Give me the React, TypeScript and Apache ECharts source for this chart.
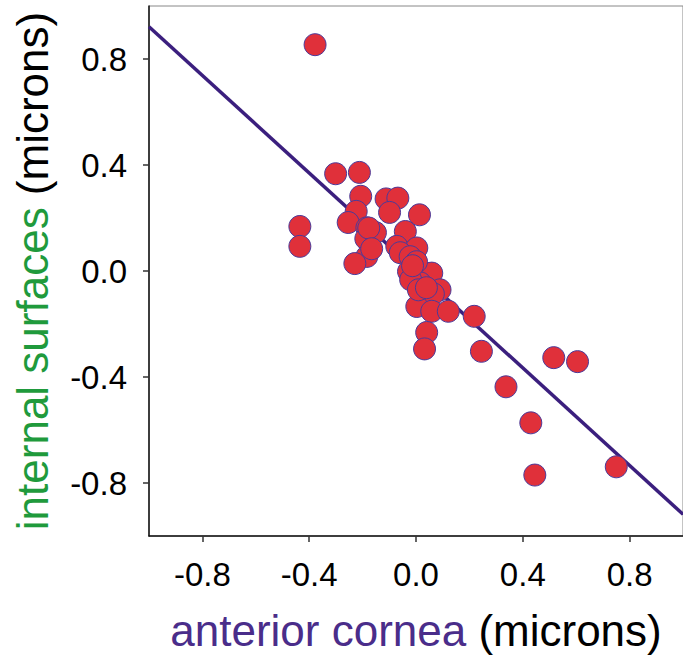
import React, { useEffect, useRef } from "react";
import * as echarts from "echarts";

const pointsX = [
  -0.378, -0.301, -0.212, -0.207, -0.224, -0.254, -0.435, -0.435, -0.184, -0.188,
  -0.152, -0.184, -0.229, -0.112, -0.068, -0.099, 0.013, -0.177, -0.04, -0.072,
  0.003, -0.166, -0.059, -0.022, -0.028, 0.034, 0.028, 0.059, 0.016, 0.09,
  0.065, 0.003, 0.059, 0.121, 0.218, 0.04, 0.032, 0.245, 0.337, 0.516,
  0.605, 0.43, 0.445, 0.75, -0.02, 0.009, 0.039, 0.002, -0.013,
];
const pointsY = [
  0.854, 0.367, 0.372, 0.282, 0.225, 0.183, 0.168, 0.093, 0.163, 0.122,
  0.145, 0.055, 0.028, 0.272, 0.275, 0.221, 0.212, 0.162, 0.149, 0.093,
  0.087, 0.084, 0.069, 0.054, -0.002, -0.008, -0.014, -0.008, -0.045, -0.071,
  -0.086, -0.134, -0.152, -0.152, -0.171, -0.232, -0.294, -0.303, -0.437, -0.327,
  -0.342, -0.573, -0.77, -0.739, -0.033, -0.071, -0.063, 0.035, 0.02,
];
const fitSlope = [-0.92];
const fitIntercept = [0.002];
const fitRangeX = [-1, 1];
const tickValues = [-0.8, -0.4, 0, 0.4, 0.8];

const FONT = "'Liberation Sans', Arial, sans-serif";
const GREEN = "#1f9a3c";
const PURPLE = "#4a2d8a";

export default function App() {
  const ref = useRef<HTMLDivElement>(null);
  useEffect(() => {
    if (!ref.current) return;
    const chart = echarts.init(ref.current, null, { renderer: "svg" });
    const scatterData = pointsX.map((x, i) => [x, pointsY[i]]);
    const lineData = fitRangeX.map((x) => [x, fitSlope[0] * x + fitIntercept[0]]);
    const axisCommon = {
      type: "value",
      min: -1,
      max: 1,
      splitLine: { show: false },
      axisLine: { show: true, onZero: false, lineStyle: { color: "#111", width: 1.5 } },
      axisTick: {
        show: true,
        length: 6,
        customValues: tickValues,
        lineStyle: { color: "#333", width: 1.5 },
      },
      axisLabel: {
        customValues: tickValues,
        formatter: (v: number) => v.toFixed(1),
        fontSize: 33,
        fontFamily: FONT,
        color: "#000",
        margin: 22,
      },
      nameLocation: "middle",
    };
    chart.setOption({
      animation: false,
      backgroundColor: "#fff",
      grid: {
        left: 149,
        top: 6,
        width: 537,
        height: 530,
        show: true,
        borderColor: "#888",
        borderWidth: 1,
      },
      xAxis: {
        ...axisCommon,
        name: "{p|anterior cornea} (microns)",
        nameGap: 72,
        nameTextStyle: {
          fontSize: 44,
          fontFamily: FONT,
          color: "#000",
          rich: { p: { fontSize: 44, fontFamily: FONT, color: PURPLE } },
        },
      },
      yAxis: {
        ...axisCommon,
        name: "{g|internal surfaces} (microns)",
        nameGap: 95,
        nameTextStyle: {
          fontSize: 44,
          fontFamily: FONT,
          color: "#000",
          rich: { g: { fontSize: 44, fontFamily: FONT, color: GREEN } },
        },
      },
      series: [
        {
          type: "line",
          data: lineData,
          symbol: "none",
          lineStyle: { color: "#3b1f7e", width: 3.5 },
          z: 1,
        },
        {
          type: "scatter",
          data: scatterData,
          symbolSize: 22,
          itemStyle: {
            color: "#e0303a",
            borderColor: "#4a3a9a",
            borderWidth: 1,
            opacity: 1,
          },
          z: 2,
        },
      ],
    });
    return () => chart.dispose();
  }, []);
  return (
    <div
      ref={ref}
      style={{ position: "fixed", left: 0, top: 0, width: 683, height: 662 }}
    />
  );
}
